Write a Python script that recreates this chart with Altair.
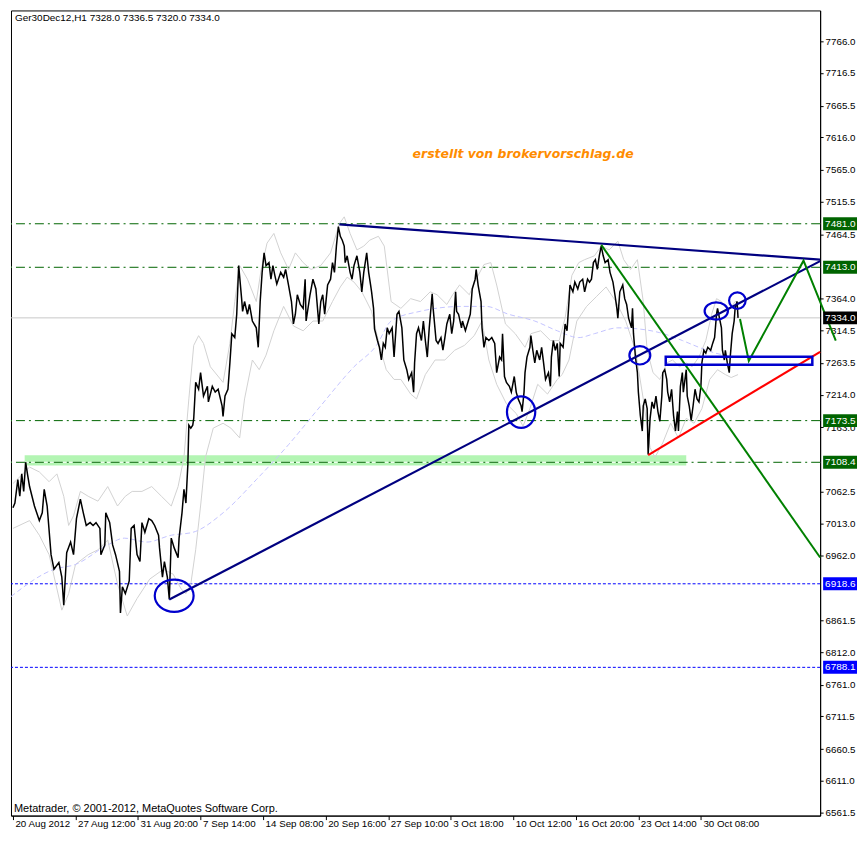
import altair as alt
import pandas as pd

# ---------------- data ----------------
TITLE_TEXT = "Ger30Dec12,H1  7328.0 7336.5 7320.0 7334.0"
COPYRIGHT = "Metatrader, \u00a9 2001-2012, MetaQuotes Software Corp."
WATERMARK = "erstellt von brokervorschlag.de"

DATE_TICK_BARS = [3, 67, 131, 195, 259, 323, 387, 451, 515, 579, 643, 707]
DATE_TICK_LABELS = ["20 Aug 2012", "27 Aug 12:00", "31 Aug 20:00", "7 Sep 14:00",
                    "14 Sep 08:00", "20 Sep 16:00", "27 Sep 10:00", "3 Oct 18:00",
                    "10 Oct 12:00", "16 Oct 20:00", "23 Oct 14:00", "30 Oct 08:00"]
PRICE_TICKS = [7766.0, 7716.5, 7665.5, 7616.0, 7565.0, 7515.5, 7464.5, 7364.0,
               7314.5, 7263.5, 7214.0, 7163.0, 7062.5, 7013.0, 6962.0,
               6861.5, 6812.0, 6761.0, 6711.5, 6660.5, 6611.0, 6561.5]

PRICE_BAR = [
    3, 5, 8, 10, 12, 14, 16, 18, 20, 25,
    30, 33, 35, 38, 42, 45, 50, 53, 55, 58,
    62, 65, 68, 72, 75, 78, 82, 85, 88, 92,
    93, 97, 98, 102, 105, 108, 112, 113, 115, 118,
    122, 124, 127, 130, 133, 135, 138, 142, 145, 148,
    152, 153, 156, 158, 161, 163, 165, 168, 172, 173,
    176, 178, 180, 182, 183, 185, 187, 188, 190, 193,
    195, 198, 202, 203, 207, 210, 213, 217, 218, 220,
    223, 225, 227, 230, 232, 234, 237, 238, 240, 243,
    245, 248, 252, 254, 256, 258, 260, 262, 265, 267,
    269, 271, 273, 277, 280, 282, 285, 288, 290, 292,
    294, 297, 300, 302, 303, 307, 310, 313, 316, 318,
    320, 322, 325, 328, 330, 332, 334, 336, 338, 340,
    342, 343, 345, 348, 350, 352, 355, 358, 360, 362,
    365, 367, 369, 370, 372, 373, 376, 378, 380, 382,
    384, 386, 388, 391, 393, 396, 398, 401, 403, 406,
    408, 411, 413, 414, 416, 418, 421, 423, 425, 427,
    429, 432, 433, 436, 438, 441, 443, 445, 447, 450,
    452, 454, 456, 457, 459, 462, 463, 466, 468, 471,
    473, 476, 477, 479, 482, 483, 485, 487, 490, 493,
    496, 498, 501, 503, 504, 506, 508, 511, 513, 516,
    518, 520, 523, 524, 526, 527, 529, 532, 533, 535,
    537, 539, 542, 544, 546, 548, 551, 553, 554, 556,
    558, 560, 562, 563, 566, 568, 570, 572, 573, 576,
    578, 581, 583, 586, 588, 591, 593, 595, 597, 599,
    601, 603, 605, 607, 609, 612, 614, 617, 619, 621,
    622, 624, 627, 629, 631, 633, 636, 637, 638, 640,
    642, 643, 645, 647, 648, 650, 652, 653, 655, 657,
    659, 661, 663, 665, 667, 668, 670, 672, 673, 675,
    677, 679, 681, 683, 684, 686, 688, 689, 692, 693,
    695, 697, 699, 701, 703, 705, 707, 708, 710, 712,
    714, 717, 719, 721, 723, 724, 726, 728, 729, 731,
    732, 734, 736, 737, 739, 741, 742, 744, 745]

PRICE_CLOSE = [
    7037.5, 7044.6, 7081.2, 7055.3, 7090.3, 7062.9, 7108.5, 7088.8, 7070.5, 7040.1,
    7017.3, 7029.4, 7066.0, 7040.1, 6964.1, 6941.3, 6951.9, 6929.1, 6885.0, 6967.1,
    6983.8, 6964.1, 7020.3, 7050.7, 7029.4, 7009.7, 7014.2, 7009.7, 7014.2, 7005.1,
    6964.1, 6979.3, 7029.4, 7014.2, 6979.3, 6964.1, 6938.2, 6872.9, 6913.9, 6903.2,
    6923.0, 7005.1, 7009.7, 6964.1, 6953.4, 7014.2, 6999.0, 7020.3, 7017.3, 7009.7,
    6994.5, 6974.7, 6929.1, 6953.4, 6929.1, 6894.1, 6989.9, 6974.7, 6959.5, 6989.9,
    7029.4, 7066.0, 7044.7, 7105.5, 7166.3, 7161.8, 7166.3, 7176.9, 7233.2, 7222.5,
    7248.4, 7211.9, 7227.1, 7202.8, 7227.1, 7218.0, 7222.5, 7196.7, 7179.9, 7211.9,
    7222.5, 7263.6, 7309.1, 7303.2, 7339.7, 7415.7, 7364.0, 7344.2, 7359.5, 7339.7,
    7354.9, 7329.1, 7318.4, 7288.0, 7359.5, 7405.1, 7435.5, 7415.7, 7420.3, 7394.4,
    7415.7, 7400.5, 7386.8, 7405.1, 7397.5, 7409.6, 7385.3, 7359.5, 7324.5, 7339.7,
    7370.1, 7354.9, 7348.8, 7394.4, 7329.1, 7370.1, 7394.4, 7379.2, 7324.5, 7359.5,
    7370.1, 7339.7, 7385.3, 7394.4, 7420.3, 7405.1, 7446.1, 7476.6, 7461.4, 7455.3,
    7446.1, 7420.3, 7430.9, 7405.1, 7394.4, 7415.7, 7430.9, 7405.1, 7374.7, 7405.1,
    7435.5, 7405.1, 7385.3, 7374.7, 7348.8, 7316.9, 7298.6, 7288.0, 7268.2, 7294.1,
    7288.0, 7318.4, 7309.3, 7318.4, 7272.8, 7339.7, 7344.2, 7318.4, 7268.2, 7253.0,
    7237.8, 7248.4, 7218.0, 7263.6, 7309.3, 7318.4, 7298.6, 7329.1, 7298.6, 7272.8,
    7318.4, 7371.6, 7348.8, 7298.6, 7294.1, 7303.2, 7283.4, 7303.2, 7324.5, 7339.7,
    7309.3, 7329.1, 7374.7, 7344.2, 7339.7, 7318.4, 7329.1, 7313.9, 7324.5, 7339.7,
    7379.2, 7394.4, 7409.6, 7385.3, 7359.5, 7318.4, 7288.0, 7303.2, 7298.6, 7303.2,
    7294.1, 7248.4, 7272.8, 7268.2, 7309.3, 7242.4, 7233.2, 7227.1, 7218.0, 7242.4,
    7218.0, 7207.4, 7196.7, 7187.6, 7218.0, 7248.4, 7272.8, 7288.0, 7306.2, 7283.4,
    7263.6, 7283.4, 7268.2, 7288.0, 7263.6, 7237.8, 7248.4, 7227.1, 7272.8, 7298.6,
    7283.4, 7294.1, 7242.4, 7294.1, 7288.0, 7324.5, 7313.9, 7359.5, 7385.3, 7374.7,
    7389.9, 7379.2, 7389.9, 7394.4, 7374.7, 7394.4, 7389.9, 7394.4, 7420.3, 7424.8,
    7409.6, 7430.9, 7446.1, 7430.9, 7420.3, 7424.8, 7405.1, 7389.9, 7370.1, 7348.8,
    7333.6, 7374.7, 7385.3, 7364.0, 7354.9, 7333.6, 7318.4, 7348.8, 7309.3, 7272.8,
    7248.4, 7218.0, 7181.5, 7157.2, 7196.7, 7207.4, 7192.2, 7120.7, 7176.9, 7202.8,
    7192.2, 7211.9, 7187.6, 7172.4, 7211.9, 7248.4, 7253.0, 7237.8, 7218.0, 7202.8,
    7222.5, 7181.5, 7157.2, 7187.6, 7157.2, 7227.1, 7248.4, 7218.0, 7253.0, 7211.9,
    7196.7, 7173.9, 7196.7, 7222.5, 7207.4, 7202.8, 7227.1, 7263.6, 7283.4, 7278.9,
    7288.0, 7283.4, 7294.1, 7303.2, 7339.7, 7348.8, 7333.6, 7318.4, 7283.4, 7268.2,
    7283.4, 7263.6, 7248.4, 7272.8, 7309.3, 7329.1, 7348.8, 7359.5, 7334.0]

UPPER_BAR = [3, 20, 30, 40, 48, 55, 60, 65, 72, 80, 90, 100, 110, 118, 125, 135, 145, 155, 165, 172,
             178, 183, 188, 193, 198, 205, 218, 225, 230, 235, 243, 252, 257, 263, 270, 277, 285, 292, 300, 308,
             318, 328, 337, 342, 348, 355, 362, 368, 377, 383, 390, 400, 410, 420, 430, 437, 447, 453, 460, 470,
             477, 485, 492, 498, 507, 517, 527, 533, 543, 553, 562, 568, 575, 582, 588, 598, 605, 613, 622, 628,
             635, 642, 648, 652, 658, 665, 672, 678, 685, 692, 698, 705, 712, 718, 723, 728, 735, 742, 745]
UPPER_VAL = [7075.1, 7100.9, 7093.3, 7078.1, 7090.3, 7055.3, 7009.7, 7024.9, 7062.9, 7055.3,
             7047.7, 7070.5, 7040.1, 7055.3, 7062.9, 7062.9, 7070.5, 7055.3, 7040.1, 7070.5,
             7116.1, 7207.4, 7291.0, 7306.2, 7294.1, 7257.6, 7233.2, 7294.1, 7359.5, 7415.7,
             7394.4, 7359.5, 7409.6, 7450.7, 7465.9, 7435.5, 7409.6, 7435.5, 7420.3, 7409.6,
             7415.7, 7435.5, 7481.1, 7491.8, 7465.9, 7440.1, 7446.1, 7455.3, 7461.4, 7446.1,
             7359.5, 7348.8, 7364.0, 7359.5, 7374.7, 7370.1, 7354.9, 7370.1, 7385.3, 7370.1,
             7394.4, 7417.3, 7420.3, 7385.3, 7324.5, 7309.3, 7288.0, 7309.3, 7313.8, 7298.6,
             7298.6, 7333.6, 7400.5, 7420.3, 7424.9, 7430.9, 7446.1, 7440.1, 7453.8, 7424.9,
             7409.6, 7424.9, 7359.5, 7283.4, 7248.4, 7237.8, 7263.6, 7268.2, 7257.6, 7263.6,
             7257.6, 7272.8, 7298.6, 7339.7, 7364.0, 7359.5, 7344.3, 7359.5, 7359.5]

LOWER_BAR = [3, 20, 30, 40, 53, 60, 67, 80, 90, 100, 110, 120, 130, 143, 157, 167, 175, 180, 185, 190,
             195, 200, 208, 218, 226, 235, 240, 248, 255, 262, 270, 280, 290, 300, 310, 320, 330, 338, 345, 352,
             360, 370, 378, 385, 393, 400, 410, 416, 425, 435, 445, 455, 465, 475, 483, 490, 498, 508, 518, 525,
             532, 540, 550, 560, 565, 572, 580, 590, 600, 610, 620, 630, 640, 648, 655, 660, 668, 676, 684, 692,
             700, 708, 716, 724, 732, 738, 745]
LOWER_VAL = [7005.1, 7017.3, 6994.5, 6964.1, 6877.4, 6903.2, 6948.8, 6964.1, 6971.7, 6986.9,
             6918.4, 6868.2, 6895.6, 6926.0, 6941.2, 6933.6, 6910.8, 6903.2, 6918.4, 6971.7,
             7040.1, 7116.1, 7161.8, 7169.4, 7161.8, 7146.5, 7207.4, 7268.2, 7253.0, 7275.8,
             7313.8, 7351.9, 7321.4, 7313.8, 7329.0, 7329.0, 7359.5, 7382.3, 7397.5, 7389.9,
             7374.7, 7344.3, 7291.0, 7253.0, 7237.8, 7237.8, 7215.0, 7207.4, 7245.4, 7268.2,
             7268.2, 7283.4, 7291.0, 7306.2, 7329.0, 7268.2, 7230.2, 7199.8, 7184.6, 7164.8,
             7192.2, 7230.2, 7215.0, 7237.8, 7245.4, 7268.2, 7329.0, 7351.9, 7367.1, 7382.3,
             7359.5, 7329.0, 7283.4, 7207.4, 7131.3, 7116.1, 7138.9, 7169.4, 7146.5, 7177.0,
             7169.4, 7192.2, 7237.8, 7253.0, 7245.4, 7240.8, 7245.4]

MA_BAR = [1, 45, 67, 100, 117, 140, 165, 187, 218, 252, 285, 318, 352, 375, 390, 420, 463, 487, 510, 537,
          560, 582, 598, 622, 642, 665, 688, 705, 722, 745]
MA_VAL = [6898.7, 6941.2, 6948.8, 6979.3, 6989.9, 6983.8, 6994.5, 6999.0, 7029.4, 7081.2,
          7135.9, 7196.7, 7257.6, 7291.0, 7329.0, 7344.3, 7351.9, 7351.9, 7339.7, 7329.0,
          7313.8, 7303.2, 7309.3, 7318.4, 7316.9, 7310.8, 7298.6, 7288.0, 7278.9, 7272.8]

# drawn objects (bar, price)
NAVY_LINES = {"top": ([337, 829], [7480.0, 7424.9]),
              "rising": ([163, 829], [6894.1, 7422.6])}
GREEN_LINES = {"fall": ([605, 829], [7448.1, 6959.6]),
               "zigzag": ([747, 756, 812, 845], [7332.1, 7266.7, 7423.3, 7298.6])}
RED_LINES = {"support": ([653, 829], [7119.6, 7280.9])}
ZONE_BARS = [15, 692]
ZONE_PRICES = [7119.2, 7103.2]
BOX_BARS = [671, 821]
BOX_PRICES = [7273.2, 7260.6]
ELLIPSE_BAR = [168, 523, 644.5, 722.7, 744.3]
ELLIPSE_PRICE = [6899.9, 7186.8, 7275.5, 7344.7, 7361.0]
LEVEL_PRICES = [7481.0, 7413.0, 7173.5, 7108.4]
TARGET_PRICES = [6918.6, 6788.1]
BID_PRICE = 7334.0
TAG_PRICES = [7481.0, 7413.0, 7334.0, 7173.5, 7108.4, 6918.6, 6788.1]
TAG_KIND = ["level", "level", "bid", "level", "level", "target", "target"]
WATERMARK_BAR = 525
WATERMARK_PRICE = 7590.0

# ---------------- styling ----------------
W, H = 812, 808
ELLIPSE_RADII = [(19.5, 16.2), (14.2, 15.8), (10.5, 9.2), (11.7, 8.7), (8.3, 8.3)]
FONT = "Liberation Sans"

XS = alt.Scale(domain=[1, 829], nice=False, zero=False)
YS = alt.Scale(domain=[6556.5, 7814.2], nice=False, zero=False)

label_expr = "''"
for v, lab in reversed(list(zip(DATE_TICK_BARS, DATE_TICK_LABELS))):
    label_expr = f"datum.value == {v} ? '{lab}' : ({label_expr})"

X_AXIS = alt.Axis(values=DATE_TICK_BARS, labelExpr=label_expr, labelAlign="left",
                  labelBaseline="top", labelPadding=-1, labelOffset=2, tickSize=4,
                  tickColor="black", domainColor="black", labelColor="black",
                  labelFont=FONT, labelFontSize=9.8, grid=False, title=None,
                  labelFlush=False, labelOverlap=False)
Y_AXIS = alt.Axis(orient="right", values=PRICE_TICKS, format=".1f", tickSize=3,
                  labelPadding=2, tickColor="black", domainColor="black",
                  labelColor="black", labelFont=FONT, labelFontSize=9.8, grid=False,
                  title=None, labelFlush=False, labelOverlap=False)


def xq(field):
    return alt.X(f"{field}:Q", scale=XS, axis=X_AXIS)


def yq(field):
    return alt.Y(f"{field}:Q", scale=YS, axis=Y_AXIS)


price_df = pd.DataFrame({"bar": PRICE_BAR, "price": PRICE_CLOSE})
band_df = pd.concat([
    pd.DataFrame({"bar": UPPER_BAR, "price": UPPER_VAL, "band": "upper"}),
    pd.DataFrame({"bar": LOWER_BAR, "price": LOWER_VAL, "band": "lower"}),
])
ma_df = pd.DataFrame({"bar": MA_BAR, "price": MA_VAL})


def lines_df(d):
    rows = []
    for name, (bars, prices) in d.items():
        for b, p in zip(bars, prices):
            rows.append({"line": name, "bar": b, "price": p})
    return pd.DataFrame(rows)


zone = alt.Chart(pd.DataFrame({"x1": [ZONE_BARS[0]], "x2": [ZONE_BARS[1]],
                               "p1": [ZONE_PRICES[0]], "p2": [ZONE_PRICES[1]]})).mark_rect(
    color="#b3f5b3").encode(x=xq("x1"), x2="x2:Q", y=yq("p1"), y2="p2:Q")

level_df = pd.DataFrame({"price": LEVEL_PRICES})
level_bg = alt.Chart(level_df).mark_rule(color="white", strokeWidth=1).encode(y=yq("price"))
levels = alt.Chart(level_df).mark_rule(color="#006400", strokeWidth=1,
                                       strokeDash=[9, 4, 2, 4]).encode(y=yq("price"))
targets = alt.Chart(pd.DataFrame({"price": TARGET_PRICES})).mark_rule(
    color="#0000ff", strokeWidth=1, strokeDash=[3, 2]).encode(y=yq("price"))
bid = alt.Chart(pd.DataFrame({"price": [BID_PRICE]})).mark_rule(
    color="#c8c8c8", strokeWidth=1).encode(y=yq("price"))

bands = alt.Chart(band_df).mark_line(color="#d2d2d2", strokeWidth=1).encode(
    x=xq("bar"), y=yq("price"), detail="band:N")
ma = alt.Chart(ma_df).mark_line(color="#c4c4ff", strokeWidth=1, strokeDash=[5, 3],
                                interpolate="monotone").encode(x=xq("bar"), y=yq("price"))
price = alt.Chart(price_df).mark_line(color="black", strokeWidth=1.5).encode(
    x=xq("bar"), y=yq("price"))

navy = alt.Chart(lines_df(NAVY_LINES)).mark_line(color="#000080", strokeWidth=2.2).encode(
    x=xq("bar"), y=yq("price"), detail="line:N")
green = alt.Chart(lines_df(GREEN_LINES)).mark_line(color="#008000", strokeWidth=2).encode(
    x=xq("bar"), y=yq("price"), detail="line:N")
red = alt.Chart(lines_df(RED_LINES)).mark_line(color="#ff0000", strokeWidth=2.2).encode(
    x=xq("bar"), y=yq("price"), detail="line:N")

box = alt.Chart(pd.DataFrame({"x1": [BOX_BARS[0]], "x2": [BOX_BARS[1]],
                              "p1": [BOX_PRICES[0]], "p2": [BOX_PRICES[1]]})).mark_rect(
    fillOpacity=0, stroke="#0000cd", strokeWidth=2.5).encode(
    x=xq("x1"), x2="x2:Q", y=yq("p1"), y2="p2:Q")

ellipses = []
for b, p, (rx, ry) in zip(ELLIPSE_BAR, ELLIPSE_PRICE, ELLIPSE_RADII):
    r = max(rx, ry)
    ax, ay = rx / r, ry / r
    path = (f"M{-ax:.3f},0A{ax:.3f},{ay:.3f} 0 1,1 {ax:.3f},0"
            f"A{ax:.3f},{ay:.3f} 0 1,1 {-ax:.3f},0Z")
    ellipses.append(
        alt.Chart(pd.DataFrame({"bar": [b], "price": [p]})).mark_point(
            shape=path, size=(2 * r) ** 2, filled=False, stroke="#0000cd",
            strokeWidth=2.2, opacity=1).encode(x=xq("bar"), y=yq("price")))

TAG_W, TAG_H = 34, 13
tag_shape = f"M-1,{-TAG_H / TAG_W:.3f}H1V{TAG_H / TAG_W:.3f}H-1Z"
tag_df = pd.DataFrame({"price": TAG_PRICES, "kind": TAG_KIND})
tags = alt.Chart(tag_df).mark_point(shape=tag_shape, size=TAG_W ** 2, filled=True,
                                    opacity=1, strokeWidth=0).encode(
    x=alt.value(W + 3 + TAG_W / 2), y=yq("price"),
    color=alt.Color("kind:N", legend=None,
                    scale=alt.Scale(domain=["level", "bid", "target"],
                                    range=["#006400", "#000000", "#0000ff"])))
tag_text = alt.Chart(tag_df).mark_text(align="left", baseline="middle", color="white",
                                       font=FONT, fontSize=10).encode(
    x=alt.value(W + 5), y=yq("price"), text=alt.Text("price:Q", format=".1f"))

watermark = alt.Chart(pd.DataFrame({"bar": [WATERMARK_BAR], "price": [WATERMARK_PRICE],
                                    "t": [WATERMARK]})).mark_text(
    font="DejaVu Sans", fontSize=12.5, fontWeight="bold", fontStyle="italic",
    color="#ff8c00", align="center", baseline="middle").encode(
    x=xq("bar"), y=yq("price"), text="t:N")

header = alt.Chart(pd.DataFrame({"t": [TITLE_TEXT]})).mark_text(
    align="left", baseline="alphabetic", font=FONT, fontSize=10, color="black").encode(
    x=alt.value(4), y=alt.value(11), text="t:N")
footer = alt.Chart(pd.DataFrame({"t": [COPYRIGHT]})).mark_text(
    align="left", baseline="alphabetic", font=FONT, fontSize=11, color="black").encode(
    x=alt.value(3), y=alt.value(H - 4), text="t:N")

chart = alt.layer(
    zone, level_bg, levels, targets, bid, bands, ma, price, navy, green, red, box,
    *ellipses, tags, tag_text, watermark, header, footer
).properties(
    width=W, height=H, background="white",
    padding={"left": 1, "top": 1, "right": 2, "bottom": 2}
).configure_view(stroke="black", strokeWidth=1)

chart.save("out.html", embed_options={"renderer": "svg", "actions": False})
